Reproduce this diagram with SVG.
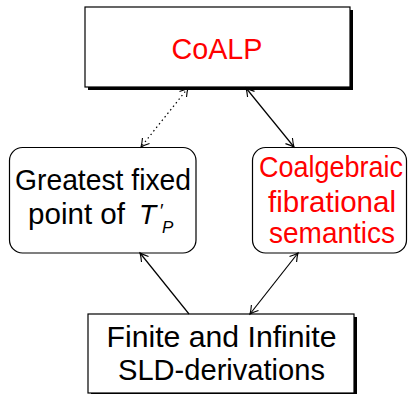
<svg xmlns="http://www.w3.org/2000/svg" width="410" height="394" viewBox="0 0 410 394">
<style>
  .box { fill: #fff; stroke: #000; stroke-width: 1.2; }
  .shadow { fill: #000; }
  .t { font-family: "Liberation Sans", Arial, sans-serif; font-size: 30px; text-anchor: middle; fill: #000; }
  .red { fill: #ff0000; }
  .edge { stroke: #000; stroke-width: 1.2; fill: none; }
  .dot { stroke-dasharray: 1.5 3; }
</style>
<defs>
  <marker id="arr" markerUnits="userSpaceOnUse" markerWidth="16" markerHeight="16" viewBox="-10 -8 12 16" refX="0" refY="0" orient="auto-start-reverse">
    <path d="M-8,-4.5 Q-3,-1.2 0,0 Q-3,1.2 -8,4.5" fill="none" stroke="#000" stroke-width="1.1"/>
  </marker>
</defs>
<rect width="410" height="394" fill="#fff"/>
<g id="coalp">
  <rect class="shadow" x="88" y="10" width="265" height="80"/>
  <rect class="box" x="85" y="7" width="265" height="80"/>
  <text class="t red" x="217" y="59" font-size="32.5" textLength="91" lengthAdjust="spacingAndGlyphs">CoALP</text>
</g>
<g id="gfp">
  <rect class="box" x="9.5" y="147.5" width="186.5" height="105.5" rx="13"/>
  <text class="t" x="103" y="190" textLength="176" lengthAdjust="spacingAndGlyphs">Greatest fixed</text>
  <text class="t" style="text-anchor:start"><tspan x="28" y="224" textLength="97" lengthAdjust="spacingAndGlyphs">point of</tspan><tspan x="139" y="224" font-style="italic" font-size="28">T</tspan><tspan x="160" y="217" font-size="19">′</tspan><tspan x="162" y="233" font-style="italic" font-size="17">P</tspan></text>
</g>
<g id="cfs">
  <rect class="box" x="252.5" y="147.5" width="154" height="105.5" rx="13"/>
  <text class="t red" x="331" y="177" textLength="144" lengthAdjust="spacingAndGlyphs">Coalgebraic</text>
  <text class="t red" x="332" y="212" textLength="128" lengthAdjust="spacingAndGlyphs">fibrational</text>
  <text class="t red" x="332" y="243" textLength="126" lengthAdjust="spacingAndGlyphs">semantics</text>
</g>
<g id="sld">
  <rect class="shadow" x="91" y="317" width="266" height="80"/>
  <rect class="box" x="88" y="314" width="266" height="79"/>
  <text class="t" x="221.5" y="347" textLength="230" lengthAdjust="spacingAndGlyphs">Finite and Infinite</text>
  <text class="t" x="221.5" y="380" textLength="207" lengthAdjust="spacingAndGlyphs">SLD-derivations</text>
</g>
<g id="connectors">
  <line class="edge dot" x1="188" y1="88" x2="141" y2="147" marker-start="url(#arr)" marker-end="url(#arr)"/>
  <line class="edge" x1="246" y1="88" x2="294" y2="147" marker-start="url(#arr)" marker-end="url(#arr)"/>
  <line class="edge" x1="189" y1="314" x2="140" y2="253" marker-end="url(#arr)"/>
  <line class="edge" x1="250" y1="314" x2="298" y2="253" marker-start="url(#arr)" marker-end="url(#arr)"/>
</g>
</svg>
